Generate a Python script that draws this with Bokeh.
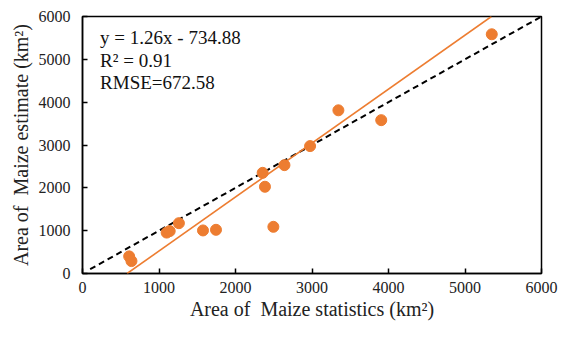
from bokeh.plotting import figure
from bokeh.models import Range1d, Slope, Label, FixedTicker
from bokeh.embed import file_html
from bokeh.resources import INLINE

# Data
stat_area = [610, 640, 1100, 1140, 1260, 1575, 1745, 2355, 2385, 2495, 2640, 2975, 3345, 3905, 5350]
est_area = [400, 290, 955, 990, 1175, 1005, 1020, 2350, 2025, 1090, 2530, 2975, 3810, 3580, 5585]
ref_x = [100, 6000]
ref_y = [100, 6000]
slope = 1.26
intercept = -734.88
stats_text = ["y = 1.26x - 734.88", "R\u00b2 = 0.91", "RMSE=672.58"]
ticks = [0, 1000, 2000, 3000, 4000, 5000, 6000]

FONT = "'Liberation Serif', 'Times New Roman', serif"
ORANGE = "#ED7D31"

p = figure(width=558, height=322, output_backend="svg", toolbar_location=None,
           x_range=Range1d(0, 6000), y_range=Range1d(0, 6000),
           min_border_left=82, min_border_right=17, min_border_top=16, min_border_bottom=46)

p.xgrid.visible = False
p.ygrid.visible = False
p.outline_line_color = "black"
p.outline_line_width = 1.5
p.background_fill_color = "white"
p.border_fill_color = "white"

for ax in (p.xaxis[0], p.yaxis[0]):
    ax.ticker = FixedTicker(ticks=ticks)
    ax.major_tick_in = 5
    ax.major_tick_out = 0
    ax.minor_tick_line_color = None
    ax.axis_line_color = "black"
    ax.axis_line_width = 1.5
    ax.major_tick_line_color = "black"
    ax.major_tick_line_width = 1.5
    ax.major_label_text_font = FONT
    ax.major_label_text_font_size = "16px"
    ax.major_label_text_color = "#222222"
    ax.axis_label_text_font = FONT
    ax.axis_label_text_font_size = "20px"
    ax.axis_label_text_font_style = "normal"
    ax.axis_label_text_color = "#222222"

p.xaxis.axis_label = "Area of\u00a0 Maize statistics (km\u00b2)"
p.yaxis.axis_label = "Area of\u00a0 Maize estimate (km\u00b2)"
p.xaxis.major_label_standoff = 8
p.xaxis.axis_label_standoff = 2
p.yaxis.major_label_standoff = 12
p.yaxis.axis_label_standoff = 4

# 1:1 reference line
p.line(ref_x, ref_y, line_color="black", line_width=2, line_dash="6 4")
# fitted regression line
p.add_layout(Slope(gradient=slope, y_intercept=intercept, line_color=ORANGE, line_width=1.6))
# points
p.scatter(stat_area, est_area, size=11, fill_color=ORANGE, line_color=ORANGE)

for i, t in enumerate(stats_text):
    p.add_layout(Label(x=230, y=5500 - i * 520, text=t, text_font=FONT,
                       text_font_size="19px", text_baseline="middle", text_color="#111111"))

open("out.html", "w").write(file_html(p, INLINE))
